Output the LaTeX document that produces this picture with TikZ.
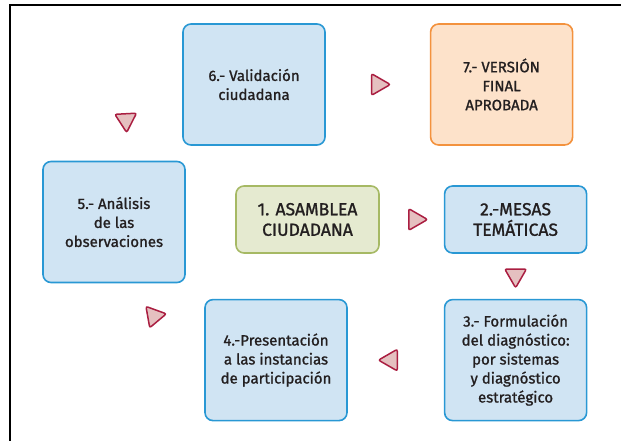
\documentclass[tikz,border=0pt]{standalone}
\usepackage{fontspec}
\setmainfont{Fira Sans}[FakeBold=1.2]
\usetikzlibrary{positioning, shapes.geometric, calc}
\definecolor{celeste}{RGB}{208,228,243}
\definecolor{celesteborde}{RGB}{41,152,212}
\definecolor{naranja}{RGB}{253,226,202}
\definecolor{naranjaborde}{RGB}{243,146,62}
\definecolor{verde}{RGB}{229,234,208}
\definecolor{verdeborde}{RGB}{166,185,100}
\definecolor{rosa}{RGB}{229,192,192}
\definecolor{granate}{RGB}{170,30,65}
\definecolor{texto}{RGB}{35,31,32}

\begin{document}
\begin{tikzpicture}[x=1pt, y=-1pt,
    b/.style={draw=celesteborde, fill=celeste, rounded corners=8pt, line width=1.6pt, align=center,
      minimum width=142pt, minimum height=121pt, inner sep=2pt, text=texto,
      font=\fontsize{15}{19}\selectfont},
    bbig/.style={b, minimum height=67pt, font=\fontsize{17.5}{20.5}\selectfont},
    tri/.style={regular polygon, regular polygon sides=3, minimum size=25pt, inner sep=0pt,
      draw=granate, fill=rosa, line width=1.5pt, rounded corners=2pt}]
    \useasboundingbox (0,0) rectangle (621,441);
    % marco
    \draw[line width=1.6pt] (10,442) -- (10,5) -- (622,5);
    % pasos
    \node[bbig, draw=verdeborde, fill=verde, minimum width=143pt] (n1) at (307.5,219.5) {1. ASAMBLEA\\CIUDADANA};
    \node[bbig, right=64pt of n1] (n2) {2.-MESAS\\TEMÁTICAS};
    \node[b, below=45pt of n2] (n3) {3.- Formulación\\del diagnóstico:\\por sistemas\\y diagnóstico\\estratégico};
    \node[b, left=96pt of n3] (n4) {4.-Presentación\\a las instancias\\de participación};
    \node[b] (n5) at (114,222) {5.- Análisis\\de las\\observaciones};
    \node[b] (n6) at (254,84.5) {6.- Validación\\ciudadana};
    \node[b, draw=naranjaborde, fill=naranja, right=104pt of n6] (n7) {7.- VERSIÓN\\FINAL\\APROBADA};
    % triangulos
    \node[tri, regular polygon rotate=-90] (t12) at ($(n1.east)!0.55!(n2.west)$) {};
    \node[tri, regular polygon rotate=180] (t23) at ($(n2.south)!0.5!(n3.north)+(0,-1)$) {};
    \node[tri, regular polygon rotate=90] (t34) at ($(n3.west)!0.55!(n4.east)$) {};
    \node[tri, regular polygon rotate=-80] (t45) at (154,316) {};
    \node[tri, regular polygon rotate=183] (t56) at (126,120) {};
    \node[tri, regular polygon rotate=-90] (t67) at ($(n6.east)!0.5!(n7.west)$) {};
\end{tikzpicture}
\end{document}
